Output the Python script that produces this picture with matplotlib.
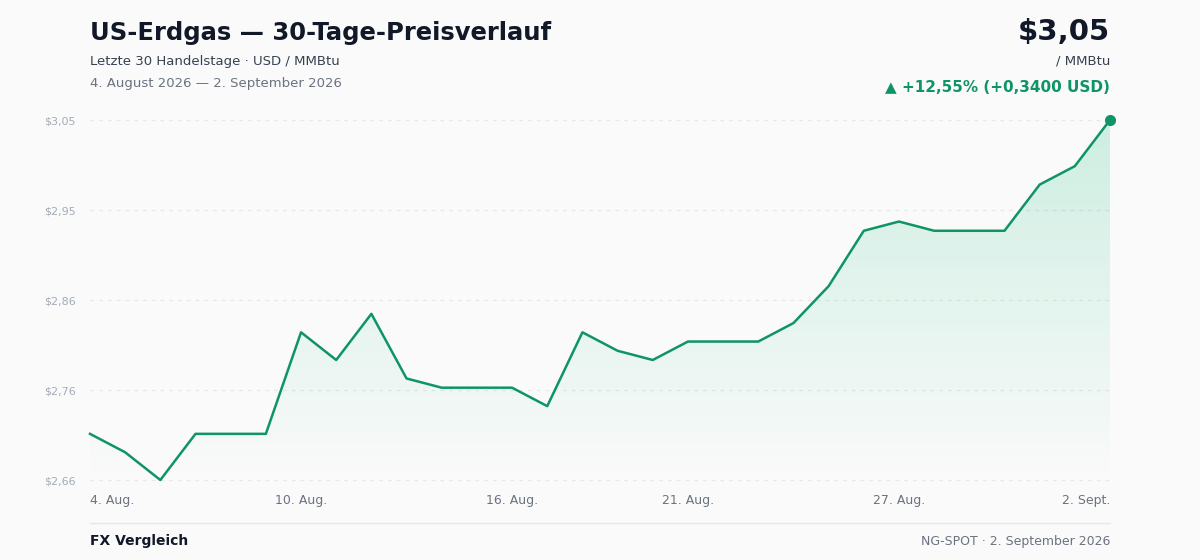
import matplotlib
matplotlib.use("Agg")
import matplotlib.pyplot as plt
import numpy as np
from matplotlib.patches import Polygon

prices = [2.71,2.69,2.66,2.71,2.71,2.71,2.82,2.79,2.84,2.77,2.76,2.76,2.76,2.74,2.82,
          2.80,2.79,2.81,2.81,2.81,2.83,2.87,2.93,2.94,2.93,2.93,2.93,2.98,3.00,3.05]
tick_idx = [0, 6, 12, 17, 23, 29]
tick_labels = ["4. Aug.", "10. Aug.", "16. Aug.", "21. Aug.", "27. Aug.", "2. Sept."]
ymin, ymax = 2.66, 3.05

W, H = 1200, 560
BG = "#fafafa"
GREEN = "#0f9466"
fig = plt.figure(figsize=(W/100, H/100), dpi=100, facecolor=BG)
ax = fig.add_axes([90/W, 1-480/H, 1020/W, 360/H])
ax.set_facecolor(BG)
x = np.arange(len(prices))
ax.set_xlim(0, len(prices)-1)
ax.set_ylim(ymin, ymax)

yt = np.linspace(ymin, ymax, 5)
for v in yt:
    ax.axhline(v, color="#e6e8eb", lw=0.9, ls=(0, (3, 4)), zorder=0, clip_on=False)
ax.set_yticks(yt)
ax.set_yticklabels([f"${v + 1e-9:.2f}".replace(".", ",") for v in yt], fontsize=8, color="#a3abb6")
ax.set_xticks(tick_idx)
ax.set_xticklabels(tick_labels, fontsize=9, color="#6b7280")
labs = ax.get_xticklabels()
labs[0].set_ha("left")
labs[-1].set_ha("right")
ax.tick_params(length=0, pad=10)
ax.tick_params(axis="y", pad=10)
for s in ax.spines.values():
    s.set_visible(False)

# gradient fill
n = 256
img = np.zeros((n, 1, 4))
img[..., 0] = 0.10
img[..., 1] = 0.75
img[..., 2] = 0.50
img[:, 0, 3] = np.linspace(0.20, 0.0, n)
im = ax.imshow(img, extent=[0, len(prices)-1, ymin, ymax], aspect="auto",
               origin="upper", zorder=1, interpolation="bilinear")
verts = [(0, ymin)] + list(zip(x, prices)) + [(len(prices)-1, ymin)]
poly = Polygon(verts, closed=True, facecolor="none", edgecolor="none", transform=ax.transData)
ax.add_patch(poly)
im.set_clip_path(poly)

ax.plot(x, prices, color=GREEN, lw=1.8, zorder=3, clip_on=False)
ax.plot(x[-1], prices[-1], "o", color=GREEN, ms=7, zorder=4, clip_on=False)

fig.text(90/W, 1-33/H, "US-Erdgas — 30-Tage-Preisverlauf", fontsize=17.5, fontweight="bold",
         color="#111827", va="center")
fig.text(90/W, 1-61/H, "Letzte 30 Handelstage · USD / MMBtu", fontsize=9.5, color="#374151", va="center")
fig.text(90/W, 1-83/H, "4. August 2026 — 2. September 2026", fontsize=9.5, color="#6b7280", va="center")
fig.text(1110/W, 1-32/H, "$3,05", fontsize=21, fontweight="bold", color="#111827", va="center", ha="right")
fig.text(1110/W, 1-61/H, "/ MMBtu", fontsize=9.5, color="#374151", va="center", ha="right")
fig.text(1110/W, 1-87/H, "▲ +12,55% (+0,3400 USD)", fontsize=11, fontweight="bold", color=GREEN,
         va="center", ha="right")

fig.add_artist(plt.Line2D([90/W, 1110/W], [1-523/H, 1-523/H], color="#e5e7eb", lw=1))
fig.text(90/W, 1-541/H, "FX Vergleich", fontsize=10, fontweight="bold", color="#111827", va="center")
fig.text(1110/W, 1-541/H, "NG-SPOT · 2. September 2026", fontsize=9, color="#6b7280", va="center", ha="right")

fig.savefig("out.png", dpi=100, facecolor=BG)
